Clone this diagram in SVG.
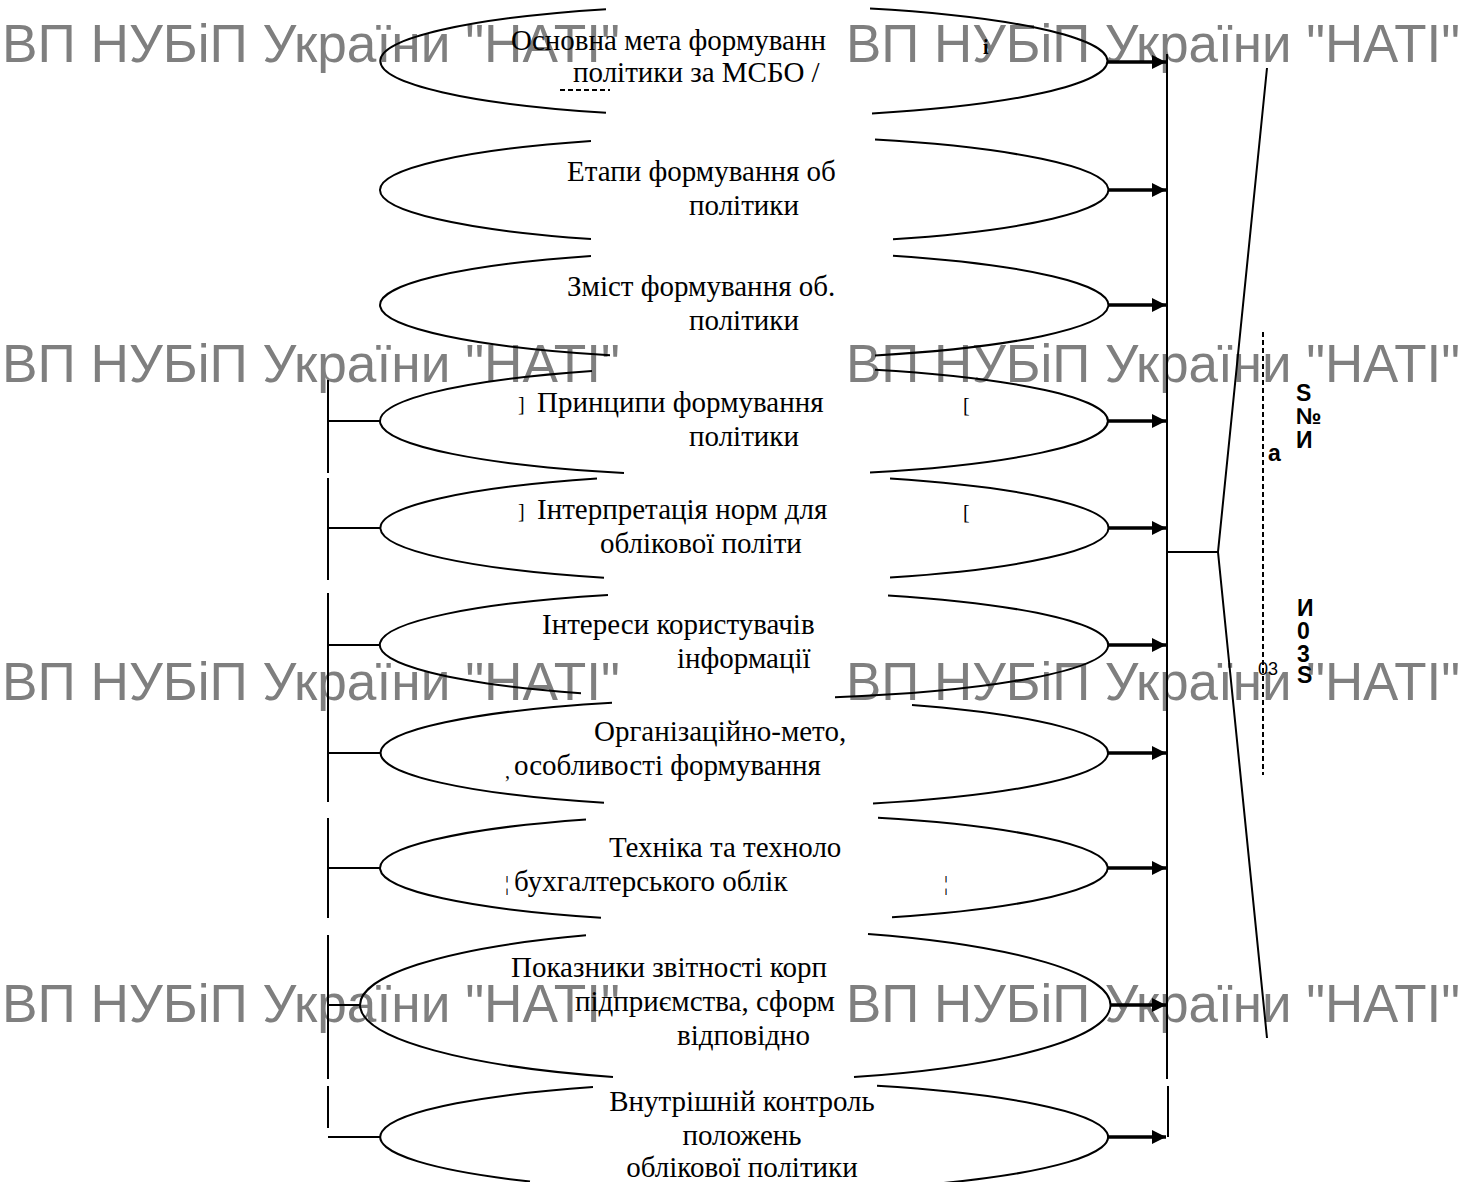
<svg xmlns="http://www.w3.org/2000/svg" width="1470" height="1182" viewBox="0 0 1470 1182">
<style>
.wm{font-family:"Liberation Sans",Arial,sans-serif;font-size:54px;fill:#7f7f7f}
.e{fill:none;stroke:#000;stroke-width:2}
.t{font-family:"Liberation Serif","Times New Roman",serif;font-size:29px;fill:#000}
.m{font-family:"Liberation Serif","Times New Roman",serif;font-size:20px;fill:#000}
.c{fill:none;stroke:#000;stroke-width:2}
.a{fill:none;stroke:#000;stroke-width:3.5;marker-end:url(#ah)}
.b{font-family:"Liberation Sans",Arial,sans-serif;font-weight:bold;font-size:23px;fill:#000}
.s{font-family:"Liberation Sans",Arial,sans-serif;font-size:18px;fill:#000}
</style>
<defs>
<marker id="ah" viewBox="0 0 14 14" refX="14" refY="7" markerWidth="14" markerHeight="14" markerUnits="userSpaceOnUse" orient="auto">
<path d="M0,0 L14,7 L0,14 z" fill="#000"/>
</marker>
</defs>
<rect width="1470" height="1182" fill="#fff"/>
<g id="watermarks">
<text class="wm" x="2" y="62" textLength="618" lengthAdjust="spacingAndGlyphs">ВП НУБіП України "НАТІ"</text>
<text class="wm" x="846" y="62" textLength="614" lengthAdjust="spacingAndGlyphs">ВП НУБіП України "НАТІ"</text>
<text class="wm" x="2" y="382" textLength="618" lengthAdjust="spacingAndGlyphs">ВП НУБіП України "НАТІ"</text>
<text class="wm" x="846" y="382" textLength="614" lengthAdjust="spacingAndGlyphs">ВП НУБіП України "НАТІ"</text>
<text class="wm" x="2" y="700" textLength="618" lengthAdjust="spacingAndGlyphs">ВП НУБіП України "НАТІ"</text>
<text class="wm" x="846" y="700" textLength="614" lengthAdjust="spacingAndGlyphs">ВП НУБіП України "НАТІ"</text>
<text class="wm" x="2" y="1022" textLength="618" lengthAdjust="spacingAndGlyphs">ВП НУБіП України "НАТІ"</text>
<text class="wm" x="846" y="1022" textLength="614" lengthAdjust="spacingAndGlyphs">ВП НУБіП України "НАТІ"</text>
</g>
<g id="connectors">
<path class="a" d="M1108,62 H1166"/>
<path class="a" d="M1108,190 H1166"/>
<path class="a" d="M1108,305 H1166"/>
<path class="a" d="M1108,421 H1166"/>
<path class="a" d="M1108,528 H1166"/>
<path class="a" d="M1108,645 H1166"/>
<path class="a" d="M1108,753 H1166"/>
<path class="a" d="M1108,868 H1166"/>
<path class="a" d="M1110,1005 H1166"/>
<path class="a" d="M1108,1137 H1166"/>
<path class="c" d="M1167,54 V1079 M1168,1086 V1137"/>
<path class="c" d="M1167,552 H1218 M1267,68 L1218,552 L1267,1038"/>
<path class="c" d="M328,380 V473 M328,478 V580 M328,593 V802 M328,818 V918 M328,935 V1079 M328,1086 V1128"/>
<path class="c" d="M328,421 H380 M328,528 H380 M328,645 H380 M328,753 H380 M328,868 H380 M328,1005 H360 M328,1137 H380"/>
<path class="c" d="M1263,332 V775" stroke-dasharray="5 3" stroke-width="2.5"/>
<path class="c" d="M560,90 H610" stroke-dasharray="5 3" stroke-width="1.5"/>
</g>
<g id="node1">
<path class="e" d="M606,9.2 A364,56 0 0 0 606,112.8 M870,8.5 A364,56 0 0 1 872,113.4"/>
<text class="t" x="511" y="50">Основна мета формуванн</text>
<text class="t" x="573" y="82">політики за МСБО /</text>
<text class="m" x="983" y="54" font-size="26" font-weight="bold">і</text>
</g>
<g id="node2">
<path class="e" d="M591,141 A364,54 0 0 0 591,239 M875,139.6 A364,54 0 0 1 893,239.3"/>
<text class="t" x="567" y="181">Етапи формування об</text>
<text class="t" x="689" y="215">політики</text>
</g>
<g id="node3">
<path class="e" d="M591,256 A364,54 0 0 0 610,355.2 M893,255.7 A364,54 0 0 1 875,355.4"/>
<text class="t" x="567" y="296">Зміст формування об.</text>
<text class="t" x="689" y="330">політики</text>
</g>
<g id="node4">
<path class="e" d="M592,371 A364,55 0 0 0 624,472.9 M875,369.7 A364,55 0 0 1 870,472.6"/>
<text class="m" x="518" y="411">]</text>
<text class="t" x="537" y="412">Принципи формування</text>
<text class="t" x="689" y="446">політики</text>
<text class="m" x="963" y="412">[</text>
</g>
<g id="node5">
<path class="e" d="M597,478.6 A364,54 0 0 0 604,577.8 M890,478.5 A364,54 0 0 1 890,577.5"/>
<text class="m" x="518" y="518">]</text>
<text class="t" x="537" y="519">Інтерпретація норм для</text>
<text class="t" x="600" y="553">облікової політи</text>
<text class="m" x="963" y="519">[</text>
</g>
<g id="node6">
<path class="e" d="M608,594.9 A364,54 0 0 0 581,693.3 M888,595.4 A364,54 0 0 1 835,697.3"/>
<text class="t" x="542" y="634">Інтереси користувачів</text>
<text class="t" x="677" y="668">інформації</text>
</g>
<g id="node7">
<path class="e" d="M612,702.7 A364,54 0 0 0 604,802.8 M912,705.1 A364,54 0 0 1 873,803.5"/>
<text class="t" x="594" y="741">Організаційно-мето,</text>
<text class="m" x="505" y="778">,</text>
<text class="t" x="514" y="775">особливості формування</text>
</g>
<g id="node8">
<path class="e" d="M586,819.4 A364,54 0 0 0 601,917.7 M878,817.8 A364,54 0 0 1 892,917.3"/>
<text class="t" x="609" y="857">Техніка та техноло</text>
<text class="m" x="505" y="890">¦</text>
<text class="t" x="514" y="891">бухгалтерського облік</text>
<text class="m" x="944" y="890">¦</text>
</g>
<g id="node9">
<path class="e" d="M586,935.3 A375,76 0 0 0 613,1076.9 M868,933.9 A375,76 0 0 1 854,1077.1"/>
<text class="t" x="511" y="977">Показники звітності корп</text>
<text class="t" x="575" y="1011">підприємства, сформ</text>
<text class="t" x="677" y="1045">відповідно</text>
</g>
<g id="node10">
<path class="e" d="M593,1087 A364,55 0 0 0 530,1181.5 M877,1085.8 A364,55 0 0 1 931,1184.2"/>
<text class="t" x="742" y="1111" text-anchor="middle">Внутрішній контроль</text>
<text class="t" x="742" y="1145" text-anchor="middle">положень</text>
<text class="t" x="742" y="1177" text-anchor="middle">облікової політики</text>
</g>
<g id="annotations">
<text class="b" x="1296" y="401">S</text>
<text class="b" x="1296" y="424">№</text>
<text class="b" x="1296" y="448">И</text>
<text class="b" x="1268" y="461">a</text>
<text class="b" x="1297" y="616">И</text>
<text class="b" x="1297" y="639">0</text>
<text class="b" x="1297" y="662">3</text>
<text class="b" x="1297" y="683">S</text>
<text class="s" x="1258" y="675">03</text>
</g>
</svg>
